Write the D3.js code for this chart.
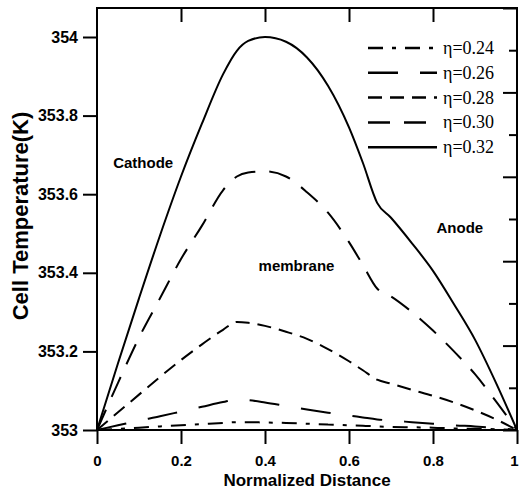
<!DOCTYPE html>
<html>
<head>
<meta charset="utf-8">
<script src="https://cdn.jsdelivr.net/npm/d3@7"></script>
<style>
  body { margin: 0; background: #fff; }
  #chart { width: 519px; height: 490px; }
</style>
</head>
<body>
<div id="chart"></div>
<script>
// normalized distance through the cell (cathode | membrane | anode)
const distance = [0, 0.05, 0.1, 0.15, 0.2, 0.25, 0.3, 0.333, 0.36, 0.4, 0.45, 0.5, 0.55, 0.6, 0.633, 0.667, 0.7, 0.75, 0.8, 0.85, 0.9, 0.95, 1]

// cell temperature (K) for each efficiency
const eta024 = [353, 353.003, 353.006, 353.009, 353.012, 353.015, 353.018, 353.02, 353.02, 353.019, 353.018, 353.016, 353.014, 353.012, 353.011, 353.009, 353.008, 353.007, 353.006, 353.004, 353.003, 353.002, 353]
const eta026 = [353, 353.012, 353.024, 353.035, 353.047, 353.059, 353.071, 353.078, 353.076, 353.07, 353.061, 353.052, 353.044, 353.037, 353.032, 353.027, 353.024, 353.02, 353.016, 353.012, 353.009, 353.005, 353]
const eta028 = [353, 353.045, 353.09, 353.135, 353.178, 353.218, 353.255, 353.275, 353.273, 353.265, 353.25, 353.232, 353.206, 353.175, 353.152, 353.128, 353.118, 353.102, 353.087, 353.07, 353.05, 353.027, 353]
const eta030 = [353, 353.12, 353.235, 353.335, 353.435, 353.52, 353.61, 353.645, 353.655, 353.658, 353.645, 353.605, 353.553, 353.478, 353.42, 353.36, 353.34, 353.3, 353.253, 353.2, 353.142, 353.073, 353]
const eta032 = [353, 353.17, 353.335, 353.495, 353.645, 353.78, 353.905, 353.965, 353.99, 354.0, 353.988, 353.948, 353.876, 353.77, 353.68, 353.578, 353.54, 353.475, 353.405, 353.32, 353.23, 353.12, 353]

const seriesNames = ["η=0.24", "η=0.26", "η=0.28", "η=0.30", "η=0.32"]
const seriesValues = [eta024, eta026, eta028, eta030, eta032]
const seriesDash = ["15,9,4,9", "30,22", "14,8", "22,14", null]

const xTicks = [0, 0.2, 0.4, 0.6, 0.8, 1]
const xTickLabels = ["0", "0.2", "0.4", "0.6", "0.8", "1"]
const yTicks = [353, 353.2, 353.4, 353.6, 353.8, 354]
const yTickLabels = ["353", "353.2", "353.4", "353.6", "353.8", "354"]

const regionLabels = [
  { text: "Cathode", x: 0.11, t: 353.667 },
  { text: "membrane", x: 0.475, t: 353.404 },
  { text: "Anode", x: 0.864, t: 353.501 }
]

function createTemperatureChart() {
  const container = document.getElementById("chart")
  container.innerHTML = ""

  const containerWidth = 519
  const containerHeight = 490
  const margin = { top: 8, right: 2, bottom: 60, left: 97 }
  const width = containerWidth - margin.left - margin.right
  const height = containerHeight - margin.top - margin.bottom

  const sans = "'Liberation Sans', Arial, sans-serif"
  const serif = "'Liberation Serif', 'Times New Roman', serif"

  const svg = d3
    .select(container)
    .append("svg")
    .attr("width", containerWidth)
    .attr("height", containerHeight)
    .attr("viewBox", `0 0 ${containerWidth} ${containerHeight}`)

  const g = svg.append("g").attr("transform", `translate(${margin.left},${margin.top})`)

  const xScale = d3.scaleLinear().domain([0, 1]).range([0, width])
  const yScale = d3.scaleLinear().domain([353, 354]).range([height, 29])
  // right-hand frame carries its own unlabeled tick scale
  const rScale = d3.scaleLinear().domain([0, 10]).range([height, 0])

  const line = d3
    .line()
    .x((d) => xScale(d[0]))
    .y((d) => yScale(d[1]))
    .curve(d3.curveMonotoneX)

  seriesValues.forEach((vals, i) => {
    g.append("path")
      .datum(distance.map((d, j) => [d, vals[j]]))
      .attr("fill", "none")
      .attr("stroke", "#000")
      .attr("stroke-width", 2)
      .attr("stroke-dasharray", seriesDash[i])
      .attr("d", line)
  })

  // bottom axis
  const xAxis = g.append("g")
    .attr("transform", `translate(0,${height})`)
    .call(d3.axisBottom(xScale).tickValues(xTicks).tickSize(14).tickPadding(11)
      .tickFormat((d, i) => xTickLabels[i]))
  xAxis.selectAll("text")
    .attr("font-family", sans)
    .attr("font-weight", "bold")
    .attr("font-size", "15px")
    .attr("fill", "#000")
  xAxis.selectAll(".tick:last-of-type text").attr("dx", -3)

  // left axis
  const yAxis = g.append("g")
    .call(d3.axisLeft(yScale).tickValues(yTicks).tickSize(14).tickPadding(5)
      .tickFormat((d, i) => yTickLabels[i]))
  yAxis.selectAll("text")
    .attr("font-family", sans)
    .attr("font-weight", "bold")
    .attr("font-size", "16px")
    .attr("fill", "#000")

  // top axis, ticks inward
  const topAxis = g.append("g")
    .call(d3.axisTop(xScale).tickValues(xTicks.slice(1, -1)).tickSize(-14).tickFormat(""))

  // right axis, ticks inward, major + minor
  const rightMajor = g.append("g")
    .attr("transform", `translate(${width},0)`)
    .call(d3.axisRight(rScale).tickValues([0, 2, 4, 6, 8, 10]).tickSize(-14).tickFormat(""))
  const rightMinor = g.append("g")
    .attr("transform", `translate(${width},0)`)
    .call(d3.axisRight(rScale).tickValues([1, 3, 5, 7, 9]).tickSize(-8).tickFormat(""))

  ;[xAxis, yAxis, topAxis, rightMajor, rightMinor].forEach((a) => {
    a.select(".domain").remove()
    a.selectAll("line").attr("stroke", "#000").attr("stroke-width", 2)
  })

  g.append("rect")
    .attr("x", 0)
    .attr("y", 0)
    .attr("width", width)
    .attr("height", height)
    .attr("fill", "none")
    .attr("stroke", "#000")
    .attr("stroke-width", 2)

  // region labels
  g.selectAll(".region-label")
    .data(regionLabels)
    .enter()
    .append("text")
    .attr("class", "region-label")
    .attr("x", (d) => xScale(d.x))
    .attr("y", (d) => yScale(d.t))
    .attr("text-anchor", "middle")
    .attr("font-family", sans)
    .attr("font-weight", "bold")
    .attr("font-size", "15px")
    .text((d) => d.text)

  // legend
  const legend = g.append("g").attr("transform", "translate(271,40)")
  seriesNames.forEach((name, i) => {
    const row = legend.append("g").attr("transform", `translate(0,${i * 24.8})`)
    row.append("line")
      .attr("x1", 0)
      .attr("x2", 69)
      .attr("y1", 0)
      .attr("y2", 0)
      .attr("stroke", "#000")
      .attr("stroke-width", 2.5)
      .attr("stroke-dasharray", seriesDash[i])
    row.append("text")
      .attr("x", 75)
      .attr("y", 6)
      .attr("font-family", serif)
      .attr("font-size", "18px")
      .text(name)
  })

  // axis titles
  svg.append("text")
    .attr("x", margin.left + width / 2)
    .attr("y", 486)
    .attr("text-anchor", "middle")
    .attr("font-family", sans)
    .attr("font-weight", "bold")
    .attr("font-size", "17px")
    .text("Normalized Distance")

  svg.append("text")
    .attr("transform", `translate(28,${margin.top + height / 2 - 3}) rotate(-90)`)
    .attr("text-anchor", "middle")
    .attr("font-family", sans)
    .attr("font-weight", "bold")
    .attr("font-size", "22px")
    .text("Cell Temperature(K)")
}

createTemperatureChart()
</script>
</body>
</html>
